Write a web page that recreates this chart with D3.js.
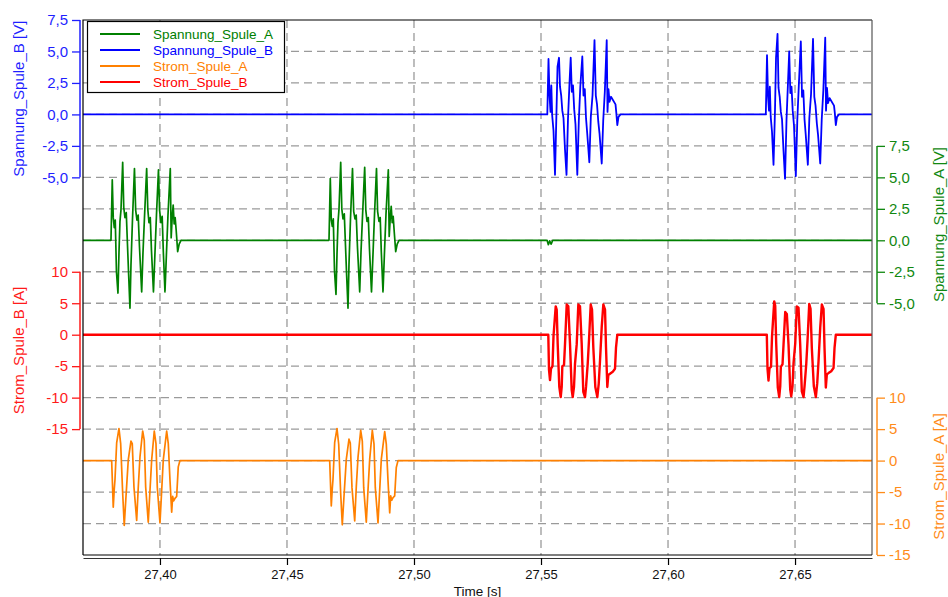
<!DOCTYPE html>
<html>
<head>
<meta charset="utf-8">
<script src="https://cdn.jsdelivr.net/npm/d3@7"></script>
<style>
  body { margin: 0; background: #fff; }
  svg { display: block; }
</style>
</head>
<body>
<div id="chart"></div>
<script>
// ---- data (time in s) ----
var timeDomain = [27.3697, 27.6803];
var timeTicks = [27.40, 27.45, 27.50, 27.55, 27.60, 27.65];

var seriesNames = ["Spannung_Spule_A", "Spannung_Spule_B", "Strom_Spule_A", "Strom_Spule_B"];
var seriesColors = ["#008000", "#0000ff", "#ff8000", "#ff0000"];

var ticksSpannung = [-5, -2.5, 0, 2.5, 5, 7.5];
var ticksStrom = [-15, -10, -5, 0, 5, 10];

// Spannung_Spule_A [V], two pulse trains
var spannungA1 = [[27.38071,0],[27.38122,4.8],[27.38161,1.8],[27.38201,1.0],[27.38240,1.6],[27.38287,-2.5],[27.38346,-4.2],[27.38386,-1.0],[27.38425,1.5],[27.38465,2.4],[27.38532,6.2],[27.38575,2.6],[27.38622,1.8],[27.38673,2.2],[27.38720,-0.3],[27.38768,-2.8],[27.38819,-5.4],[27.38858,-2.0],[27.38917,1.6],[27.38996,5.7],[27.39043,2.4],[27.39094,1.6],[27.39142,2.0],[27.39193,-0.5],[27.39280,-4.1],[27.39331,-1.0],[27.39390,1.8],[27.39476,5.7],[27.39520,2.5],[27.39567,1.4],[27.39618,1.8],[27.39665,-0.8],[27.39744,-4.1],[27.39803,-1.0],[27.39862,2.0],[27.39941,5.6],[27.39984,2.4],[27.40039,1.4],[27.40087,1.9],[27.40130,-0.8],[27.40197,-4.1],[27.40256,-1.0],[27.40315,2.0],[27.40406,5.7],[27.40441,0.2],[27.40480,1.8],[27.40520,2.8],[27.40559,1.3],[27.40598,1.8],[27.40638,0.8],[27.40697,-0.9],[27.40756,-0.3],[27.40827,0]];
var spannungA2 = [[27.46654,0],[27.46705,4.9],[27.46744,1.6],[27.46784,1.1],[27.46823,1.7],[27.46870,-2.4],[27.46929,-4.3],[27.46969,-1.1],[27.47008,1.4],[27.47048,2.5],[27.47115,6.2],[27.47158,2.5],[27.47205,1.7],[27.47256,2.1],[27.47303,-0.4],[27.47351,-2.9],[27.47402,-5.4],[27.47441,-1.9],[27.47500,1.7],[27.47579,5.7],[27.47626,2.3],[27.47677,1.7],[27.47725,2.0],[27.47776,-0.6],[27.47863,-4.1],[27.47914,-0.9],[27.47973,1.9],[27.48059,5.8],[27.48103,2.4],[27.48150,1.5],[27.48201,1.8],[27.48248,-0.7],[27.48327,-4.1],[27.48386,-1.1],[27.48445,2.0],[27.48524,5.7],[27.48567,2.3],[27.48622,1.5],[27.48670,1.8],[27.48713,-0.9],[27.48780,-4.1],[27.48839,-0.9],[27.48898,2.1],[27.48989,5.6],[27.49024,0.3],[27.49063,1.7],[27.49103,2.7],[27.49142,1.4],[27.49181,1.9],[27.49221,0.7],[27.49280,-0.9],[27.49339,-0.3],[27.49410,0]];
var spannungA3 = [[27.5524,0],[27.5529,-0.35],[27.5534,-0.05],[27.5540,-0.3],[27.5546,0]];

// Spannung_Spule_B [V]
var spannungB1 = [[27.55248,0],[27.55295,4.4],[27.55335,1.5],[27.55374,0.2],[27.55406,2.3],[27.55441,-0.1],[27.55492,-1.3],[27.55551,-4.8],[27.55610,0.3],[27.55650,3.8],[27.55709,4.5],[27.55748,2.2],[27.55795,1.5],[27.55839,0.3],[27.55886,-0.3],[27.55945,-2.8],[27.56004,-4.8],[27.56063,-0.3],[27.56122,2.5],[27.56169,4.5],[27.56213,1.8],[27.56260,2.3],[27.56307,0.4],[27.56358,-0.8],[27.56429,-4.8],[27.56488,-0.5],[27.56547,2.2],[27.56626,4.6],[27.56673,1.5],[27.56724,2.0],[27.56772,-0.3],[27.56819,-1.5],[27.56902,-3.8],[27.56961,-0.2],[27.57028,1.5],[27.57106,5.9],[27.57157,1.5],[27.57205,0.8],[27.57256,-0.6],[27.57303,-1.5],[27.57390,-3.9],[27.57449,-0.5],[27.57512,1.8],[27.57587,5.9],[27.57618,0.2],[27.57657,2.0],[27.57697,1.0],[27.57756,1.4],[27.57933,0.8],[27.57965,0.1],[27.58004,-0.85],[27.58051,-0.2],[27.58130,0]];
var spannungB2 = [[27.63850,0],[27.63897,4.7],[27.63937,1.4],[27.63976,0.3],[27.64008,2.2],[27.64043,-0.2],[27.64094,-1.4],[27.64153,-4.0],[27.64212,0.4],[27.64252,4.5],[27.64311,6.4],[27.64350,2.1],[27.64397,1.4],[27.64441,0.2],[27.64488,-0.4],[27.64547,-2.9],[27.64606,-5.1],[27.64665,-0.4],[27.64724,2.6],[27.64771,5.0],[27.64815,1.7],[27.64862,2.2],[27.64909,0.3],[27.64960,-0.9],[27.65031,-4.9],[27.65090,-0.4],[27.65149,2.3],[27.65228,5.8],[27.65275,1.4],[27.65326,1.9],[27.65374,-0.4],[27.65421,-1.6],[27.65504,-4.0],[27.65563,-0.3],[27.65630,1.6],[27.65708,6.0],[27.65759,1.4],[27.65807,0.7],[27.65858,-0.7],[27.65905,-1.6],[27.65992,-3.9],[27.66051,-0.4],[27.66114,1.9],[27.66189,6.1],[27.66220,0.3],[27.66259,2.1],[27.66299,0.9],[27.66358,1.3],[27.66535,0.7],[27.66567,0.1],[27.66606,-0.85],[27.66653,-0.2],[27.66732,0]];

// Strom_Spule_A [A]
var stromA1 = [[27.38098,0],[27.38161,-7.4],[27.38201,-4.5],[27.38228,-3.1],[27.38295,2.8],[27.38386,5.1],[27.38453,2.7],[27.38532,-5.2],[27.38594,-10.3],[27.38661,-5.8],[27.38752,0.1],[27.38858,3.1],[27.38909,2.7],[27.38976,-4.2],[27.39083,-9.5],[27.39146,-4.2],[27.39213,0.6],[27.39319,4.7],[27.39382,3.2],[27.39437,-4.2],[27.39539,-9.8],[27.39606,-4.8],[27.39673,0.1],[27.39776,4.7],[27.39843,2.7],[27.39894,-4.2],[27.40000,-9.9],[27.40067,-4.8],[27.40130,0.1],[27.40264,4.7],[27.40327,2.7],[27.40394,-3.1],[27.40461,-8.2],[27.40500,-5.7],[27.40539,-6.4],[27.40591,-6.0],[27.40657,-5.7],[27.40720,-1.0],[27.40787,0]];
var stromA2 = [[27.46681,0],[27.46744,-7.2],[27.46784,-4.4],[27.46811,-3.0],[27.46878,2.9],[27.46969,5.1],[27.47036,2.6],[27.47115,-5.3],[27.47177,-10.2],[27.47244,-5.7],[27.47335,0.2],[27.47441,3.4],[27.47492,2.8],[27.47559,-4.3],[27.47666,-9.6],[27.47729,-4.1],[27.47796,0.5],[27.47902,4.8],[27.47965,3.1],[27.48020,-4.3],[27.48122,-9.8],[27.48189,-4.7],[27.48256,0.2],[27.48359,4.8],[27.48426,2.6],[27.48477,-4.3],[27.48583,-9.9],[27.48650,-4.7],[27.48713,0.2],[27.48847,4.6],[27.48910,2.6],[27.48977,-3.2],[27.49044,-8.3],[27.49083,-5.6],[27.49122,-6.3],[27.49174,-5.9],[27.49240,-5.6],[27.49303,-1.1],[27.49370,0]];

// Strom_Spule_B [A]
var stromB1 = [[27.55287,0],[27.55315,-5.6],[27.55354,-7.2],[27.55394,-5.4],[27.55453,-5.0],[27.55492,-0.2],[27.55579,4.5],[27.55618,4.0],[27.55657,-1.5],[27.55720,-8.3],[27.55776,-9.9],[27.55815,-8.3],[27.55839,-5.0],[27.55906,-4.8],[27.55945,-1.5],[27.56012,4.8],[27.56075,4.5],[27.56142,-1.5],[27.56209,-8.8],[27.56248,-9.9],[27.56299,-8.3],[27.56339,-4.6],[27.56406,-1.5],[27.56469,4.8],[27.56535,4.5],[27.56602,-1.5],[27.56665,-9.1],[27.56732,-9.9],[27.56772,-8.3],[27.56839,-4.6],[27.56890,-0.8],[27.56957,4.8],[27.57008,4.0],[27.57059,-2.0],[27.57138,-8.3],[27.57217,-9.9],[27.57272,-7.8],[27.57323,-4.1],[27.57390,1.2],[27.57453,4.8],[27.57520,4.0],[27.57559,-2.0],[27.57610,-8.3],[27.57650,-6.4],[27.57717,-6.2],[27.57823,-5.9],[27.57913,-5.4],[27.57953,-2.0],[27.58004,0]];
var stromB2 = [[27.63889,0],[27.63917,-5.4],[27.63956,-7.3],[27.63996,-5.3],[27.64055,-5.1],[27.64094,-0.3],[27.64181,5.3],[27.64220,4.6],[27.64259,-1.4],[27.64322,-8.4],[27.64378,-9.9],[27.64417,-8.2],[27.64441,-5.1],[27.64508,-4.7],[27.64547,-1.6],[27.64614,3.6],[27.64677,3.3],[27.64744,-1.6],[27.64811,-8.7],[27.64850,-9.8],[27.64901,-8.2],[27.64941,-4.5],[27.65008,-1.4],[27.65071,4.5],[27.65137,4.3],[27.65204,-1.6],[27.65267,-9.0],[27.65334,-9.9],[27.65374,-8.2],[27.65441,-4.7],[27.65492,-0.9],[27.65559,4.9],[27.65610,4.1],[27.65661,-2.1],[27.65740,-8.2],[27.65819,-9.9],[27.65874,-7.7],[27.65925,-4.2],[27.65992,1.1],[27.66055,4.8],[27.66122,4.1],[27.66161,-2.1],[27.66212,-8.4],[27.66252,-6.3],[27.66319,-6.1],[27.66425,-5.8],[27.66515,-5.3],[27.66555,-2.1],[27.66606,0]];

// ---- layout ----
var W = 948, H = 597;
var plot = { left: 83, right: 872, top: 20, bottom: 555 };
var font = "'Liberation Sans', Arial, Helvetica, sans-serif";

var de = d3.formatLocale({ decimal: ",", thousands: ".", grouping: [3], currency: ["", " €"], minus: "-" });
var fmtV = de.format(".1f");
var fmtA = de.format("d");
var fmtT = de.format(".2f");

function full(a, b) {
  // baseline from left edge to right edge with the pulse trains in between
  var pts = [[timeDomain[0], 0]];
  for (var i = 0; i < arguments.length; i++) pts = pts.concat(arguments[i]);
  pts.push([timeDomain[1], 0]);
  return pts;
}

var x = d3.scaleLinear().domain(timeDomain).range([plot.left, plot.right]);
// each channel has its own scale, all sharing 17 grid divisions
var yUB = d3.scaleLinear().domain([-35, 7.5]).range([plot.bottom, plot.top]);
var yUA = d3.scaleLinear().domain([-25, 17.5]).range([plot.bottom, plot.top]);
var yIB = d3.scaleLinear().domain([-35, 50]).range([plot.bottom, plot.top]);
var yIA = d3.scaleLinear().domain([-15, 70]).range([plot.bottom, plot.top]);

var svg = d3.select("#chart").append("svg")
  .attr("width", W).attr("height", H)
  .style("font-family", font);

svg.append("rect").attr("width", W).attr("height", H).attr("fill", "#fff");

svg.append("defs").append("clipPath").attr("id", "clip")
  .append("rect")
  .attr("x", plot.left).attr("y", plot.top)
  .attr("width", plot.right - plot.left).attr("height", plot.bottom - plot.top);

// grid
var grid = svg.append("g").attr("stroke", "#9a9a9a").attr("stroke-width", 1.3).attr("stroke-dasharray", "8,5");
grid.selectAll(".hg").data(d3.range(-32.5, 7.5, 2.5)).enter().append("line")
  .attr("x1", plot.left).attr("x2", plot.right)
  .attr("y1", function (d) { return yUB(d); }).attr("y2", function (d) { return yUB(d); });
grid.selectAll(".vg").data(timeTicks).enter().append("line")
  .attr("y1", plot.top).attr("y2", plot.bottom)
  .attr("x1", function (d) { return x(d); }).attr("x2", function (d) { return x(d); });

// curves
var channels = [
  { data: full(spannungA1, spannungA2, spannungA3), y: yUA, color: seriesColors[0], w: 1.7 },
  { data: full(spannungB1, spannungB2), y: yUB, color: seriesColors[1], w: 1.8 },
  { data: full(stromA1, stromA2), y: yIA, color: seriesColors[2], w: 1.7 },
  { data: full(stromB1, stromB2), y: yIB, color: seriesColors[3], w: 2.4 }
];

var curves = svg.append("g").attr("clip-path", "url(#clip)");
channels.forEach(function (c) {
  var line = d3.line()
    .x(function (d) { return x(d[0]); })
    .y(function (d) { return c.y(d[1]); });
  curves.append("path")
    .attr("d", line(c.data))
    .attr("fill", "none")
    .attr("stroke", c.color)
    .attr("stroke-width", c.w)
    .attr("stroke-linejoin", "round");
});

// frame
svg.append("path")
  .attr("d", "M" + plot.left + "," + plot.bottom + "V" + plot.top + "H" + plot.right)
  .attr("fill", "none").attr("stroke", "#000").attr("stroke-width", 1.2);
svg.append("line")
  .attr("x1", plot.right).attr("x2", plot.right).attr("y1", plot.top).attr("y2", plot.bottom)
  .attr("stroke", "#555").attr("stroke-width", 1.2);
svg.append("line")
  .attr("x1", plot.left).attr("x2", plot.right).attr("y1", plot.bottom).attr("y2", plot.bottom)
  .attr("stroke", "#000").attr("stroke-width", 1.2);

// value axes
function valueAxis(axis, xpos, scale, ticks, fmt, color, title, side) {
  var g = svg.append("g").attr("transform", "translate(" + xpos + ",0)");
  g.call(axis(scale).tickValues(ticks).tickFormat(fmt).tickSize(8).tickPadding(4));
  g.select(".domain").remove();
  g.attr("font-family", font).attr("font-size", 15);
  g.selectAll(".tick line").attr("stroke", color).attr("stroke-width", 1.3);
  g.selectAll(".tick text").attr("fill", color);
  var y0 = scale(ticks[0]), y1 = scale(ticks[ticks.length - 1]);
  g.append("line").attr("y1", y0).attr("y2", y1).attr("stroke", color).attr("stroke-width", 1.5);

  var tx = side === "left" ? -61 : 62;
  g.append("text")
    .attr("transform", "translate(" + tx + "," + ((y0 + y1) / 2) + ") rotate(-90)")
    .attr("text-anchor", "middle")
    .attr("dy", "0.35em")
    .attr("fill", color)
    .style("font-size", "15px")
    .text(title);
}

valueAxis(d3.axisLeft, 80, yUB, ticksSpannung, fmtV, "#1f1fff", "Spannung_Spule_B [V]", "left");
valueAxis(d3.axisLeft, 80, yIB, ticksStrom, fmtA, "#ff1a1a", "Strom_Spule_B [A]", "left");
valueAxis(d3.axisRight, 877, yUA, ticksSpannung, fmtV, "#118811", "Spannung_Spule_A [V]", "right");
valueAxis(d3.axisRight, 877, yIA, ticksStrom, fmtA, "#ff8c1a", "Strom_Spule_A [A]", "right");

// time axis
var gx = svg.append("g").attr("transform", "translate(0,558)");
gx.call(d3.axisBottom(x).tickValues(timeTicks).tickFormat(fmtT).tickSize(7).tickPadding(5).tickSizeOuter(0));
gx.attr("font-family", font).attr("font-size", 13);
gx.select(".domain").attr("stroke", "#333").attr("stroke-width", 1.2);
gx.selectAll(".tick line").attr("stroke", "#000").attr("stroke-width", 1.2);
gx.selectAll(".tick text").attr("fill", "#111");

svg.append("text")
  .attr("x", (plot.left + plot.right) / 2).attr("y", 595.5)
  .attr("text-anchor", "middle")
  .attr("fill", "#111")
  .style("font-size", "13.5px")
  .text("Time [s]");

// legend
var legend = svg.append("g");
legend.append("rect")
  .attr("x", 87.5).attr("y", 21.5).attr("width", 197).attr("height", 71)
  .attr("fill", "#fff").attr("stroke", "#000").attr("stroke-width", 1.2);
var row = legend.selectAll(".row").data(seriesNames).enter().append("g")
  .attr("transform", function (d, i) { return "translate(0," + (34 + i * 16) + ")"; });
row.append("line")
  .attr("x1", 100).attr("x2", 140)
  .attr("stroke", function (d, i) { return seriesColors[i]; })
  .attr("stroke-width", 1.8);
row.append("text")
  .attr("x", 153).attr("dy", "0.35em")
  .attr("fill", function (d, i) { return seriesColors[i]; })
  .style("font-size", "13.5px")
  .text(function (d) { return d; });
</script>
</body>
</html>
